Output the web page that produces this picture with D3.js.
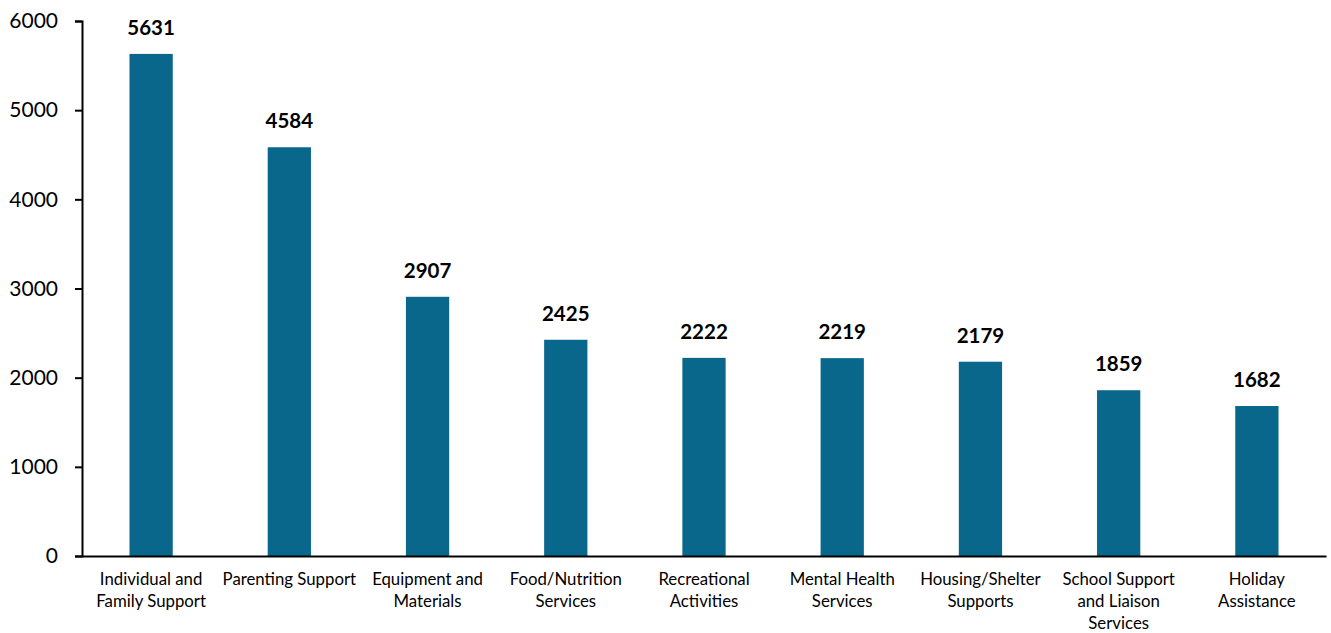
<!DOCTYPE html>
<html>
<head>
<meta charset="utf-8">
<script src="https://cdn.jsdelivr.net/npm/d3@7"></script>
<style>
  html, body { margin: 0; padding: 0; background: #fff; }
  svg { display: block; }
</style>
</head>
<body>
<svg id="chart" width="1331" height="633"></svg>
<script>
const categories = [
  "Individual and\nFamily Support",
  "Parenting Support",
  "Equipment and\nMaterials",
  "Food/Nutrition\nServices",
  "Recreational\nActivities",
  "Mental Health\nServices",
  "Housing/Shelter\nSupports",
  "School Support\nand Liaison\nServices",
  "Holiday\nAssistance"
];
const values = [5631, 4584, 2907, 2425, 2222, 2219, 2179, 1859, 1682];
const yTicks = [0, 1000, 2000, 3000, 4000, 5000, 6000];

(function () {
const svg = d3.select("#chart");
const mLeft = 82, mRight = 1326, mTop = 21, mBottom = 556;
const font = "Lato, 'Open Sans', sans-serif";

const x = d3.scaleBand()
  .domain(categories)
  .range([mLeft, mRight])
  .paddingInner(0.687)
  .paddingOuter(0.3435);

const y = d3.scaleLinear().domain([0, 6000]).range([mBottom, mTop]);

// y axis
const yAxis = svg.append("g")
  .attr("transform", `translate(${mLeft},0)`)
  .call(d3.axisLeft(y).tickValues(yTicks).tickSize(7).tickPadding(17).tickFormat(d3.format("d")));
yAxis.select(".domain").attr("stroke", "#000").attr("stroke-width", 2);
yAxis.selectAll(".tick line").attr("stroke", "#000").attr("stroke-width", 2);
yAxis.selectAll(".tick text")
  .attr("font-family", font).attr("font-size", 21).attr("fill", "#000");

// bars
svg.append("g").selectAll("rect")
  .data(values)
  .join("rect")
  .attr("x", (d, i) => x(categories[i]))
  .attr("width", x.bandwidth())
  .attr("y", d => y(d))
  .attr("height", d => y(0) - y(d))
  .attr("fill", "#08678A");

// value labels
svg.append("g").selectAll("text")
  .data(values)
  .join("text")
  .attr("x", (d, i) => x(categories[i]) + x.bandwidth() / 2)
  .attr("y", d => y(d) - 19)
  .attr("text-anchor", "middle")
  .attr("font-family", font)
  .attr("font-weight", "bold")
  .attr("font-size", 20.5)
  .attr("fill", "#000")
  .text(d => d);

// x axis
const xAxis = svg.append("g")
  .attr("transform", `translate(0,${mBottom})`)
  .call(d3.axisBottom(x).tickSize(0).tickFormat(""));
xAxis.select(".domain").attr("stroke", "#000").attr("stroke-width", 2);

// category labels (multi-line)
const catG = svg.append("g");
categories.forEach(c => {
  const lines = c.split("\n");
  const t = catG.append("text")
    .attr("x", x(c) + x.bandwidth() / 2)
    .attr("y", 585)
    .attr("text-anchor", "middle")
    .attr("font-family", font)
    .attr("font-size", 16.8)
    .attr("fill", "#000");
  lines.forEach((l, i) => {
    t.append("tspan")
      .attr("x", x(c) + x.bandwidth() / 2)
      .attr("dy", i === 0 ? 0 : 22.2)
      .text(l);
  });
});
})();
</script>
</body>
</html>
